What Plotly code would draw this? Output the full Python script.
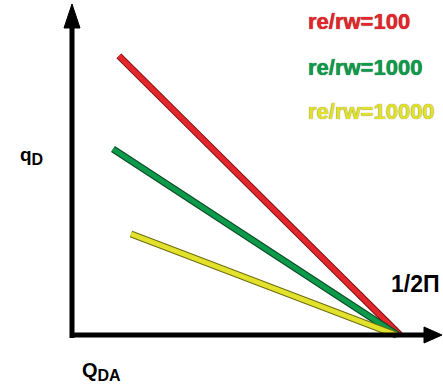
import plotly.graph_objects as go

# Schematic data (normalized units: Q_DA intercept at 1 = 1/2Π)
series_names = ["re/rw=100", "re/rw=1000", "re/rw=10000"]
series_colors = ["#e3262b", "#0e9a4b", "#e2e22c"]
edge_colors = ["#7a1010", "#0a4a25", "#6d6d10"]
start_x = [0.143, 0.125, 0.180]
start_qd = [0.851, 0.567, 0.308]
end_x = [1.0, 0.993, 0.988]
end_qd = [0.0, 0.0, 0.0]
intercept_label = "1/2\u03a0"

W, H = 443, 392
ox, oy, s = 72, 335, 328.0  # origin pixel and scale

def px2x(p):
    return (p - ox) / s

def py2y(p):
    return (oy - p) / s

fig = go.Figure()

for i, name in enumerate(series_names):
    fig.add_trace(go.Scatter(x=[start_x[i], end_x[i]], y=[start_qd[i], end_qd[i]],
                             mode="lines", line=dict(color=edge_colors[i], width=7),
                             showlegend=False, hoverinfo="skip"))
    fig.add_trace(go.Scatter(x=[start_x[i], end_x[i]], y=[start_qd[i], end_qd[i]],
                             mode="lines", line=dict(color=series_colors[i], width=5),
                             name=name, showlegend=False))

# axes
fig.add_shape(type="line", x0=0, x1=0, y0=py2y(338), y1=py2y(26),
              line=dict(color="black", width=5))
fig.add_shape(type="line", x0=px2x(70), x1=px2x(426), y0=0, y1=0,
              line=dict(color="black", width=5))
# arrowheads
fig.add_trace(go.Scatter(x=[px2x(72 - 8), px2x(72), px2x(72 + 8), px2x(72 - 8)],
                         y=[py2y(28), py2y(4), py2y(28), py2y(28)],
                         fill="toself", fillcolor="black", mode="lines",
                         line=dict(color="black", width=1), showlegend=False, hoverinfo="skip"))
fig.add_trace(go.Scatter(x=[px2x(424), px2x(442), px2x(424), px2x(424)],
                         y=[py2y(335 - 8), py2y(335), py2y(335 + 8), py2y(335 - 8)],
                         fill="toself", fillcolor="black", mode="lines",
                         line=dict(color="black", width=1), showlegend=False, hoverinfo="skip"))

ann = []
label_y = [21, 67, 111]
for i, name in enumerate(series_names):
    ann.append(dict(x=306 / W, y=1 - label_y[i] / H, xref="paper", yref="paper",
                    xanchor="left", yanchor="middle", showarrow=False, text="<b>%s</b>" % name,
                    font=dict(family="Liberation Sans, Arial", size=22, color=series_colors[i],
                              shadow="0 0 1px %s" % edge_colors[i])))
ann.append(dict(x=415 / W, y=1 - 284 / H, xref="paper", yref="paper", xanchor="center",
                yanchor="middle", showarrow=False, text="<b>%s</b>" % intercept_label,
                font=dict(family="Liberation Sans, Arial", size=23, color="black")))
ann.append(dict(x=31 / W, y=1 - 156 / H, xref="paper", yref="paper", xanchor="center",
                yanchor="middle", showarrow=False,
                text="<b>q<sub><span style='font-size:16px'>D</span></sub></b>",
                font=dict(family="Liberation Sans, Arial", size=19, color="black")))
ann.append(dict(x=101 / W, y=1 - 371 / H, xref="paper", yref="paper", xanchor="center",
                yanchor="middle", showarrow=False,
                text="<b>Q<sub><span style='font-size:16px'>DA</span></sub></b>",
                font=dict(family="Liberation Sans, Arial", size=20, color="black")))

fig.update_layout(width=W, height=H, margin=dict(l=0, r=0, t=0, b=0),
                  paper_bgcolor="white", plot_bgcolor="white", annotations=ann,
                  xaxis=dict(range=[px2x(0), px2x(W)], visible=False, fixedrange=True),
                  yaxis=dict(range=[py2y(H), py2y(0)], visible=False, fixedrange=True))

fig.write_html("out.html")
